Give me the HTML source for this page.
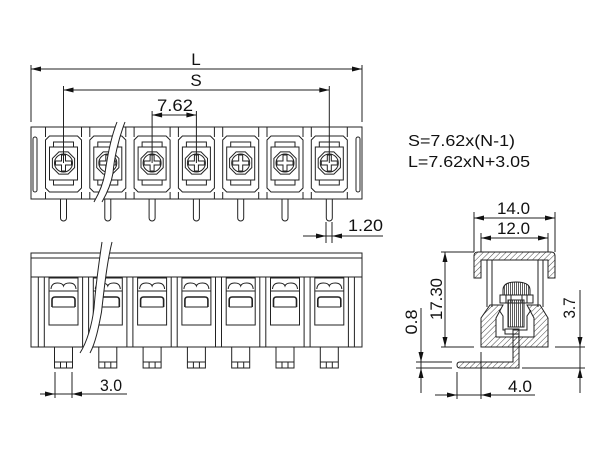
<!DOCTYPE html>
<html><head><meta charset="utf-8"><style>
html,body{margin:0;padding:0;background:#fff;}
svg{display:block;}
text{font-family:"Liberation Sans",Arial,sans-serif;fill:#111;font-size:17px;}
</style></head><body>
<svg width="600" height="450" viewBox="0 0 600 450">
<defs>
<pattern id="h" patternUnits="userSpaceOnUse" width="4" height="4" patternTransform="rotate(45)"><line x1="0" y1="-1" x2="0" y2="5" stroke="#333" stroke-width="0.9"/></pattern>
<pattern id="v" patternUnits="userSpaceOnUse" width="2" height="4"><line x1="0.5" y1="0" x2="0.5" y2="4" stroke="#333" stroke-width="0.8"/></pattern>
<g id="tc">
<path d="M-18,127V137M18,127V137M-18,192V199M18,192V199"/>
<path d="M-14,136H14L18,140V188L14,192H-14L-18,188V140Z"/>
<rect x="-14" y="147" width="28" height="33"/>
<path d="M-10,147V142H10V147M-10,180V185H10V180"/>
<polygon points="11.1,167.6 4.6,174.1 -4.6,174.1 -11.1,167.6 -11.1,158.4 -4.6,151.9 4.6,151.9 11.1,158.4"/>
<circle cx="0" cy="163" r="9"/>
<path d="M-2,155H2V161H8V165H2V171H-2V165H-8V161H-2Z"/>
<path d="M-3,199V218A3,3 0 0 0 3,218V199"/>
</g>
<g id="fc">
<rect x="-14.5" y="278" width="29" height="47"/>
<path d="M-12.5,289 Q-12,283 -6,283 Q-1,283 0,286 Q1,283 6,283 Q12,283 12.5,289"/>
<line x1="-14.5" y1="291" x2="14.5" y2="291"/>
<path d="M-11.5,307V300Q-11.5,297 -8.5,297H8.5Q11.5,297 11.5,300V307" stroke-width="1.6"/>
<line x1="-11.5" y1="307" x2="11.5" y2="307"/>
<rect x="-9" y="347" width="18" height="21"/>
<path d="M-9,362H9M-3,362V368M3,362V368"/>
</g>
<g id="dv"><path d="M-3,277V347M3,277V347"/></g>
</defs>

<g fill="none" stroke="#222" stroke-width="1">
<!-- ===== TOP VIEW ===== -->
<rect x="31" y="127" width="331" height="72"/>
<rect x="33" y="137" width="4" height="55" rx="2"/>
<rect x="356" y="137" width="4" height="55" rx="2"/>
<use href="#tc" x="63.5"/>
<use href="#tc" x="107.8"/>
<use href="#tc" x="152.1"/>
<use href="#tc" x="196.4"/>
<use href="#tc" x="240.7"/>
<use href="#tc" x="285"/>
<use href="#tc" x="329.3"/>
<!-- break -->
<path d="M117,122 C110,140 107,160 105,173 C103,185 98,195 94,202 L102,202 C106,195 111,185 113,173 C114,160 118,140 125,122 Z" fill="#fff" stroke="none"/>
<path d="M117,122 C110,140 107,160 105,173 C103,185 98,195 94,202"/>
<path d="M125,122 C118,140 114,160 113,173 C111,185 106,195 102,202"/>

<!-- dims top -->
<path d="M31,65V122M362,65V122M31,69H362"/>
<path d="M63.5,86V163M329.3,86V163M63.5,90H329.3"/>
<path d="M152.1,111V163M196.4,111V163M152.1,115H196.4"/>
<path d="M326,222V243M332,222V243M303,236H383"/>

<!-- ===== FRONT VIEW ===== -->
<rect x="31" y="253" width="331" height="94"/>
<line x1="31" y1="258" x2="362" y2="258"/>
<line x1="31" y1="277" x2="362" y2="277"/>
<use href="#dv" x="41.3"/>
<use href="#dv" x="85.6"/>
<use href="#dv" x="129.9"/>
<use href="#dv" x="174.2"/>
<use href="#dv" x="218.5"/>
<use href="#dv" x="262.8"/>
<use href="#dv" x="307.1"/>
<use href="#dv" x="351.4"/>
<use href="#fc" x="63.5"/>
<use href="#fc" x="107.8"/>
<use href="#fc" x="152.1"/>
<use href="#fc" x="196.4"/>
<use href="#fc" x="240.7"/>
<use href="#fc" x="285"/>
<use href="#fc" x="329.3"/>
<path d="M102,242 C99,262 96,282 94,308 C92,325 87,342 80,353 L90,353 C96,342 99,325 101.5,312 C104,290 107,262 112,242 Z" fill="#fff" stroke="none"/>
<path d="M102,242 C99,262 96,282 94,308 C92,325 87,342 80,353"/>
<path d="M112,242 C107,262 104,290 101.5,312 C99,325 96,342 90,353"/>
<path d="M55,372V398M72,372V398M40,394H127"/>

<!-- ===== SIDE VIEW ===== -->
<path d="M474,278 V256 Q474,252 478,252 H551 Q555,252 555,256 V278 H548 V260 H481 V278 Z" fill="url(#h)"/>
<path d="M487,260V307M492,260V307M538,260V307M543,260V307"/>
<path d="M481,347 V318 L490,305 H503 L496,318 V337 H534 V318 L527,305 H540 L548,318 V347 Z" fill="url(#h)"/>
<path d="M499,310 L503,316 V330 H527 V316 L531,310"/>
<path d="M503,300 V290 Q503,282 516,282 Q530,282 530,290 V300 Z" fill="url(#v)"/>
<rect x="500" y="295" width="33" height="8" fill="#fff"/>
<path d="M506,295V303M511,295V303M522,295V303M527,295V303"/>
<rect x="508" y="300" width="16" height="27" fill="url(#v)"/>
<rect x="505" y="329" width="14" height="5" fill="#fff"/>
<path d="M519,330 V368 H460 Q457,368 457,365 Q457,362 460,362 H513 V330 Z" fill="url(#h)"/>

<!-- side dims -->
<path d="M474,212V252M555,212V252M474,218H555"/>
<path d="M481,233V252M548,233V252M481,238H548"/>
<path d="M441,252H474M441,347H474M445,252V347"/>
<path d="M416,362H452M416,368H452M421,308V393"/>
<path d="M555,347H585M522,368H585M580,290V393"/>
<path d="M457,372V399M481,352V399M435,395H535"/>
</g>

<!-- arrowheads -->
<g fill="#111" stroke="none">
<polygon points="31,69 41,66.5 41,71.5"/><polygon points="362,69 352,66.5 352,71.5"/>
<polygon points="63.5,90 73.5,87.5 73.5,92.5"/><polygon points="329.3,90 319.3,87.5 319.3,92.5"/>
<polygon points="152.1,115 162.1,112.5 162.1,117.5"/><polygon points="196.4,115 186.4,112.5 186.4,117.5"/>
<polygon points="326,236 316,233.5 316,238.5"/><polygon points="332,236 342,233.5 342,238.5"/>
<polygon points="55,394 45,391.5 45,396.5"/><polygon points="72,394 82,391.5 82,396.5"/>
<polygon points="474,218 484,215.5 484,220.5"/><polygon points="555,218 545,215.5 545,220.5"/>
<polygon points="481,238 491,235.5 491,240.5"/><polygon points="548,238 538,235.5 538,240.5"/>
<polygon points="445,252 442.5,262 447.5,262"/><polygon points="445,347 442.5,337 447.5,337"/>
<polygon points="421,362 418.5,352 423.5,352"/><polygon points="421,368 418.5,378 423.5,378"/>
<polygon points="580,347 577.5,337 582.5,337"/><polygon points="580,368 577.5,378 582.5,378"/>
<polygon points="457,395 447,392.5 447,397.5"/><polygon points="481,395 491,392.5 491,397.5"/>
</g>

<!-- labels -->
<text x="196" y="65" text-anchor="middle">L</text>
<text x="196" y="86" text-anchor="middle">S</text>
<text x="157" y="111" textLength="36" lengthAdjust="spacingAndGlyphs">7.62</text>
<text x="408" y="146" textLength="107" lengthAdjust="spacingAndGlyphs" style="font-size:15.5px">S=7.62x(N-1)</text>
<text x="408" y="167" textLength="122" lengthAdjust="spacingAndGlyphs" style="font-size:15.5px">L=7.62xN+3.05</text>
<text x="348" y="231" textLength="35" lengthAdjust="spacingAndGlyphs">1.20</text>
<text x="100" y="391" textLength="22" lengthAdjust="spacingAndGlyphs">3.0</text>
<text x="497" y="214" textLength="33" lengthAdjust="spacingAndGlyphs">14.0</text>
<text x="497" y="234" textLength="33" lengthAdjust="spacingAndGlyphs">12.0</text>
<text x="508" y="392" textLength="24" lengthAdjust="spacingAndGlyphs">4.0</text>
<text transform="translate(442,299) rotate(-90)" text-anchor="middle" textLength="42" lengthAdjust="spacingAndGlyphs">17.30</text>
<text transform="translate(417,322) rotate(-90)" text-anchor="middle" textLength="25" lengthAdjust="spacingAndGlyphs">0.8</text>
<text transform="translate(575,308) rotate(-90)" text-anchor="middle" textLength="21" lengthAdjust="spacingAndGlyphs">3.7</text>
</svg>
</body></html>
